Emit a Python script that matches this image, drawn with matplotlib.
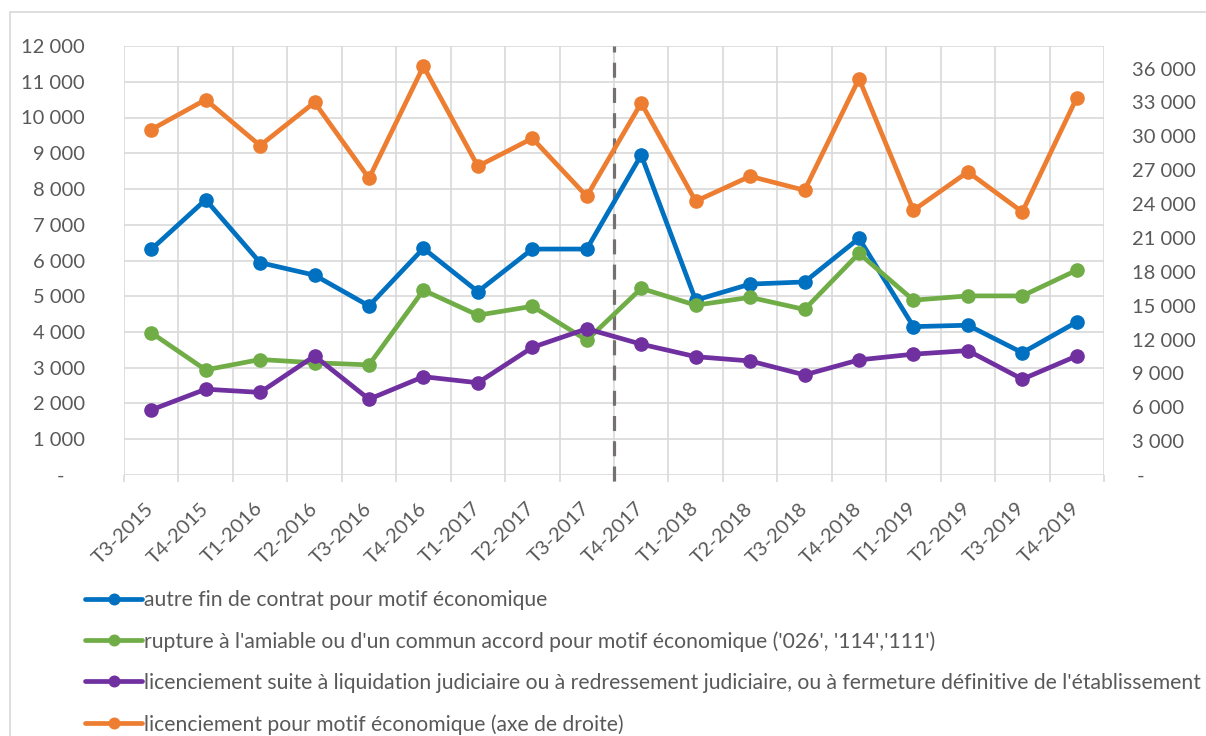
import matplotlib
matplotlib.use("Agg")
import matplotlib.pyplot as plt
import matplotlib.ticker as mticker
from matplotlib.patches import Rectangle
import numpy as np

# quarters on the x axis
quarters = ['T3-2015', 'T4-2015', 'T1-2016', 'T2-2016', 'T3-2016', 'T4-2016',
            'T1-2017', 'T2-2017', 'T3-2017', 'T4-2017', 'T1-2018', 'T2-2018',
            'T3-2018', 'T4-2018', 'T1-2019', 'T2-2019', 'T3-2019', 'T4-2019']

# left axis series
autre_fin = [6310, 7700, 5940, 5590, 4730, 6340, 5130, 6320, 6320,
             8950, 4890, 5340, 5400, 6620, 4150, 4190, 3420, 4280]
rupture = [3980, 2940, 3230, 3140, 3080, 5170, 4470, 4720, 3770,
           5220, 4750, 4970, 4630, 6200, 4890, 5010, 5010, 5730]
liquidation = [1820, 2400, 2310, 3330, 2120, 2750, 2580, 3570, 4090,
               3660, 3310, 3190, 2800, 3220, 3380, 3480, 2680, 3330]

# right axis series
licenciement_eco = [30590, 33250, 29180, 33010, 26280, 36200, 27350, 29820, 24690,
                    32950, 24250, 26460, 25220, 35100, 23450, 26850, 23300, 33420]

labels = ["autre fin de contrat pour motif économique",
          "rupture à l'amiable ou d'un commun accord pour motif économique ('026', '114','111')",
          "licenciement suite à liquidation judiciaire ou à redressement judiciaire, ou à fermeture définitive de l'établissement",
          "licenciement pour motif économique (axe de droite)"]

colors = ['#0070C0', '#70AD47', '#7030A0', '#ED7D31']
grid_col = '#D9D9D9'
text_col = '#595959'

plt.rcParams['font.family'] = ['Lato', 'DejaVu Sans']

fig = plt.figure(figsize=(12.06, 7.36), dpi=100)
# chart area border
fig.patches.append(Rectangle((10 / 1206, -0.05), 1.1, 1 - 12 / 736 + 0.05,
                             transform=fig.transFigure, fill=False,
                             edgecolor=grid_col, linewidth=1.2))

ax = fig.add_axes([124 / 1206, 1 - 475 / 736, (1104 - 124) / 1206, (475 - 46) / 736])
x = np.arange(len(quarters))

def fmt_left(v, pos):
    if v == 0:
        return '-    '
    return f'{int(v):,}'.replace(',', ' ')

def fmt_right(v, pos):
    if v == 0:
        return ' -'
    return f'{int(v):,}'.replace(',', ' ')

line_kw = dict(linewidth=3.4, marker='o', markersize=9.5, solid_capstyle='round')
h1, = ax.plot(x, autre_fin, color=colors[0], **line_kw)
h2, = ax.plot(x, rupture, color=colors[1], **line_kw)
h3, = ax.plot(x, liquidation, color=colors[2], **line_kw)

ax.set_xlim(-0.5, len(quarters) - 0.5)
ax.set_ylim(0, 12000)
ax.yaxis.set_major_locator(mticker.MultipleLocator(1000))
ax.yaxis.set_major_formatter(mticker.FuncFormatter(fmt_left))
ax.set_xticks(x)
ax.set_xticklabels(quarters, rotation=45, ha='right', va='center', rotation_mode='anchor')
ax.set_xticks(np.arange(-0.5, len(quarters)), minor=True)
ax.grid(True, which='major', axis='y', color=grid_col, linewidth=1.2)
ax.grid(True, which='minor', axis='x', color=grid_col, linewidth=1.2)
ax.tick_params(axis='x', which='major', length=0, pad=22, labelsize=14.5, labelcolor=text_col)
ax.tick_params(axis='x', which='minor', length=5, color=grid_col, width=1.2)
ax.tick_params(axis='y', length=0, pad=28, labelsize=14.5, labelcolor=text_col)
for s in ax.spines.values():
    s.set_visible(False)
ax.set_axisbelow(True)

# vertical separator between T3-2017 and T4-2017
ax.axvline(8.5, ymin=-0.015, ymax=1.0, color='#767171', linewidth=2.3,
           linestyle=(0, (4.7, 3.2)), clip_on=False, zorder=1.5)

ax2 = ax.twinx()
h4, = ax2.plot(x, licenciement_eco, color=colors[3], **line_kw)
ax2.set_ylim(0, 38000)
ax2.set_yticks(np.arange(0, 36001, 3000))
ax2.yaxis.set_major_formatter(mticker.FuncFormatter(fmt_right))
ax2.tick_params(axis='y', length=0, pad=20, labelsize=14.5, labelcolor=text_col)
for s in ax2.spines.values():
    s.set_visible(False)

fig.legend([h1, h2, h3, h4], labels, loc='upper left',
           bbox_to_anchor=(85 / 1206, 1 - 590 / 736), frameon=False,
           fontsize=15.2, labelcolor=text_col, handlelength=2.7, handletextpad=0.1,
           labelspacing=1.0, borderaxespad=0, borderpad=0, markerscale=0.8)

fig.savefig('out.png', dpi=100)
